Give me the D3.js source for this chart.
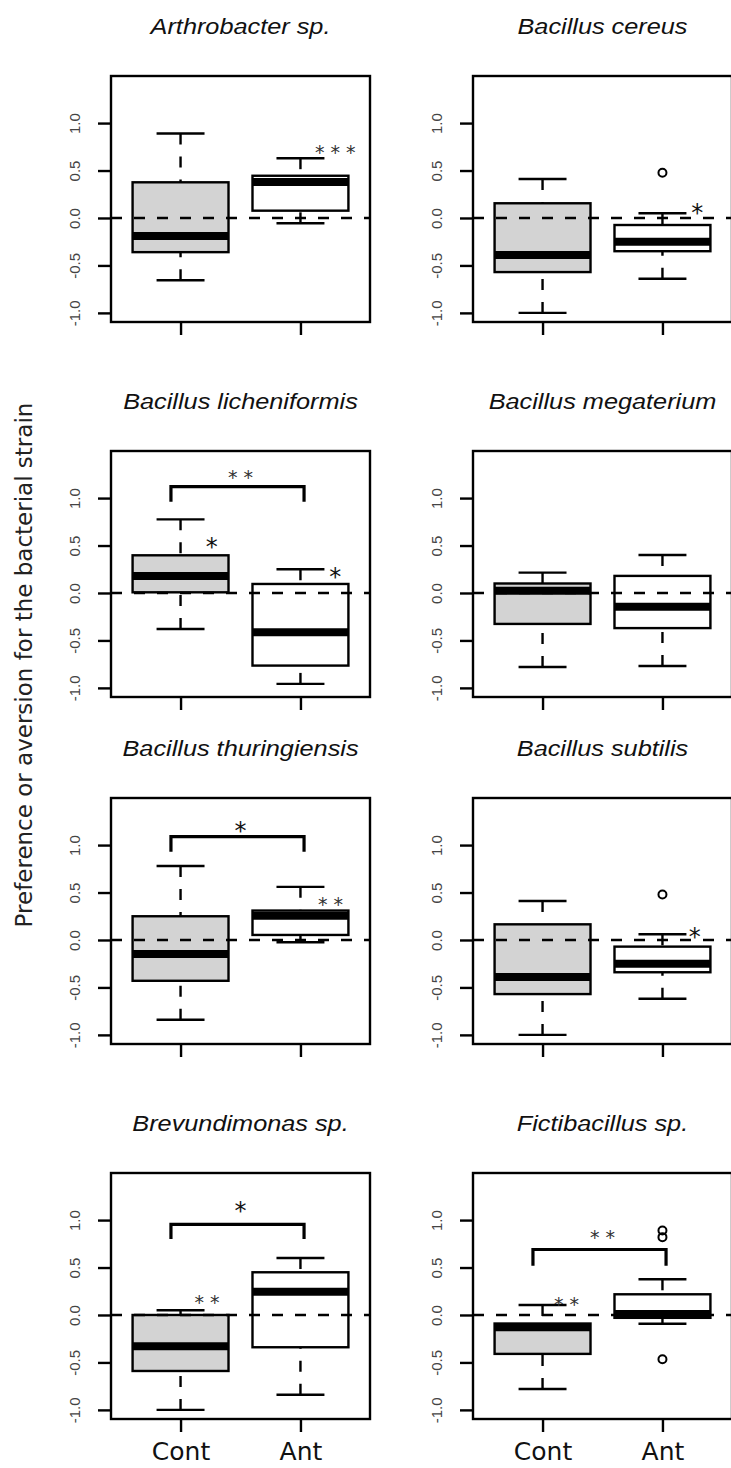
<!doctype html>
<html>
<head>
<meta charset="utf-8" />
<title>Preference or aversion</title>
<script src="https://cdn.jsdelivr.net/npm/d3@7"></script>
<style>
  html, body { margin: 0; padding: 0; background: #fff; }
  svg { display: block; }
</style>
</head>
<body>
<div id="chart"></div>
<script>
// panel titles, groups, ticks
var species = ["Arthrobacter sp.", "Bacillus cereus", "Bacillus licheniformis", "Bacillus megaterium",
               "Bacillus thuringiensis", "Bacillus subtilis", "Brevundimonas sp.", "Fictibacillus sp."];
var groups = ["Cont", "Ant"];
var yTicks = [-1, -0.5, 0, 0.5, 1];

// box stats: [lower whisker, Q1, median, Q3, upper whisker]
var contStats = [
  [-0.656, -0.36, -0.19, 0.376, 0.89],
  [-1.0, -0.57, -0.39, 0.155, 0.41],
  [-0.38, 0.007, 0.18, 0.397, 0.776],
  [-0.78, -0.326, 0.024, 0.10, 0.214],
  [-0.84, -0.43, -0.147, 0.25, 0.78],
  [-1.0, -0.57, -0.39, 0.165, 0.41],
  [-1.0, -0.59, -0.33, 0.0, 0.05],
  [-0.78, -0.41, -0.13, -0.09, 0.105]
];
var antStats = [
  [-0.056, 0.077, 0.38, 0.445, 0.63],
  [-0.64, -0.35, -0.25, -0.074, 0.05],
  [-0.958, -0.765, -0.414, 0.095, 0.25],
  [-0.77, -0.37, -0.144, 0.18, 0.40],
  [-0.024, 0.053, 0.256, 0.31, 0.56],
  [-0.62, -0.34, -0.25, -0.07, 0.06],
  [-0.84, -0.34, 0.245, 0.45, 0.60],
  [-0.092, -0.03, 0.01, 0.218, 0.376]
];
var contOutliers = [[], [], [], [], [], [], [], []];
var antOutliers = [[], [0.477], [], [], [], [0.48], [], [0.89, 0.82, -0.466]];

// significance stars next to boxes
var starPanel = [0, 1, 2, 2, 4, 5, 6, 7];
var starX = [2.29, 2.29, 1.26, 2.29, 2.25, 2.27, 1.22, 1.20];
var starY = [0.75, 0.13, 0.56, 0.24, 0.43, 0.105, 0.19, 0.17];
var starLabel = ["***", "*", "*", "*", "**", "*", "**", "**"];

// Cont vs Ant brackets
var bracketPanel = [2, 4, 6, 7];
var bracketTop = [1.12, 1.09, 0.955, 0.69];
var bracketLeg = [0.96, 0.93, 0.80, 0.52];
var bracketLabel = ["**", "*", "*", "**"];
var bracketLabelY = [1.27, 1.22, 1.165, 0.87];

var W = 731, H = 1468;
var colLeft = [111, 473];
var rowTop = [76, 451, 798, 1173];
var plotW = 259, plotH = 246;

var svg = d3.select("#chart").append("svg")
  .attr("width", W).attr("height", H);

var x = d3.scaleLinear().domain([0.42, 2.58]).range([0, plotW]);
var y = d3.scaleLinear().domain([-1.096, 1.496]).range([plotH, 0]);
var lw = 2.4;

function starText(g, label, cx, cy) {
  var big = label.length == 1;
  var fs = big ? 24 : 19;
  g.append("text")
    .attr("x", cx + (big ? 0 : 3))
    .attr("y", cy + fs * 0.62)
    .attr("text-anchor", "middle")
    .style("font-family", "DejaVu Sans")
    .style("font-size", fs + "px")
    .style("letter-spacing", big ? "0px" : "6px")
    .attr("fill", big ? "#111" : "#333")
    .text(label);
}

species.forEach(function(name, i) {
  var col = i % 2, row = Math.floor(i / 2);
  var g = svg.append("g").attr("transform", "translate(" + colLeft[col] + "," + rowTop[row] + ")");

  // title
  g.append("text")
    .attr("transform", "translate(" + (plotW / 2) + "," + (-42) + ") scale(1.15,1)")
    .attr("text-anchor", "middle")
    .style("font-family", "Liberation Sans")
    .style("font-style", "italic")
    .style("font-size", "22px")
    .attr("fill", "#111")
    .text(name);

  var stats = [contStats[i], antStats[i]];
  var outs = [contOutliers[i], antOutliers[i]];
  stats.forEach(function(s, k) {
    var cx = x(k + 1);
    var bx0 = x(k + 1 - 0.4), bx1 = x(k + 1.4);
    var cap0 = x(k + 1 - 0.2), cap1 = x(k + 1.2);
    // whiskers, drawn from the end toward the hinge
    [[s[0], s[1]], [s[4], s[3]]].forEach(function(w) {
      g.append("line")
        .attr("x1", cx).attr("x2", cx)
        .attr("y1", y(w[0])).attr("y2", y(w[1]))
        .attr("stroke", "#000").attr("stroke-width", lw)
        .attr("stroke-dasharray", "11,12");
      g.append("line")
        .attr("x1", cap0).attr("x2", cap1)
        .attr("y1", y(w[0])).attr("y2", y(w[0]))
        .attr("stroke", "#000").attr("stroke-width", lw);
    });
    g.append("rect")
      .attr("x", bx0).attr("width", bx1 - bx0)
      .attr("y", y(s[3])).attr("height", y(s[1]) - y(s[3]))
      .attr("fill", k == 0 ? "#d3d3d3" : "#fff")
      .attr("stroke", "#000").attr("stroke-width", lw);
    g.append("line")
      .attr("x1", bx0).attr("x2", bx1)
      .attr("y1", y(s[2])).attr("y2", y(s[2]))
      .attr("stroke", "#000").attr("stroke-width", 8);
    g.selectAll(null).data(outs[k]).enter().append("circle")
      .attr("cx", cx).attr("cy", function(d) { return y(d); })
      .attr("r", 4).attr("fill", "none")
      .attr("stroke", "#000").attr("stroke-width", 2);
  });

  // reference line at zero
  g.append("line")
    .attr("x1", 0).attr("x2", plotW)
    .attr("y1", y(0)).attr("y2", y(0))
    .attr("stroke", "#000").attr("stroke-width", lw)
    .attr("stroke-dasharray", "11,12");

  // frame
  g.append("rect")
    .attr("width", plotW).attr("height", plotH)
    .attr("fill", "none").attr("stroke", "#000").attr("stroke-width", lw);

  // axes
  var ya = g.append("g")
    .call(d3.axisLeft(y).tickValues(yTicks).tickSize(13).tickFormat(function(d) { return d.toFixed(1); }));
  ya.select(".domain").remove();
  ya.selectAll("line").attr("stroke-width", lw);
  ya.selectAll("text")
    .attr("x", null).attr("dy", null)
    .attr("text-anchor", "middle")
    .attr("transform", "translate(-31,0) rotate(-90)")
    .style("font-family", "Liberation Sans")
    .style("font-size", "15px")
    .attr("fill", "#444");

  var xa = g.append("g").attr("transform", "translate(0," + plotH + ")")
    .call(d3.axisBottom(x).tickValues([1, 2]).tickSize(13)
      .tickFormat(function(d) { return row == 3 ? groups[d - 1] : ""; }));
  xa.select(".domain").remove();
  xa.selectAll("line").attr("stroke-width", lw);
  xa.selectAll("text")
    .attr("dy", null).attr("y", 41)
    .style("font-family", "DejaVu Sans")
    .style("font-size", "25px")
    .attr("fill", "#111");

  // stars
  starPanel.forEach(function(p, j) {
    if (p == i) starText(g, starLabel[j], x(starX[j]), y(starY[j]));
  });

  // brackets
  bracketPanel.forEach(function(p, j) {
    if (p != i) return;
    var bx0 = x(0.92), bx1 = x(2.03);
    g.append("path")
      .attr("d", d3.line()([[bx0, y(bracketLeg[j])], [bx0, y(bracketTop[j])],
                           [bx1, y(bracketTop[j])], [bx1, y(bracketLeg[j])]]))
      .attr("fill", "none").attr("stroke", "#000").attr("stroke-width", 3.2);
    starText(g, bracketLabel[j], x(1.5), y(bracketLabelY[j]));
  });
});

// shared y label
svg.append("text")
  .attr("transform", "translate(32,665) rotate(-90)")
  .attr("text-anchor", "middle")
  .style("font-family", "DejaVu Sans")
  .style("font-size", "23px")
  .attr("fill", "#222")
  .text("Preference or aversion for the bacterial strain");
</script>
</body>
</html>
